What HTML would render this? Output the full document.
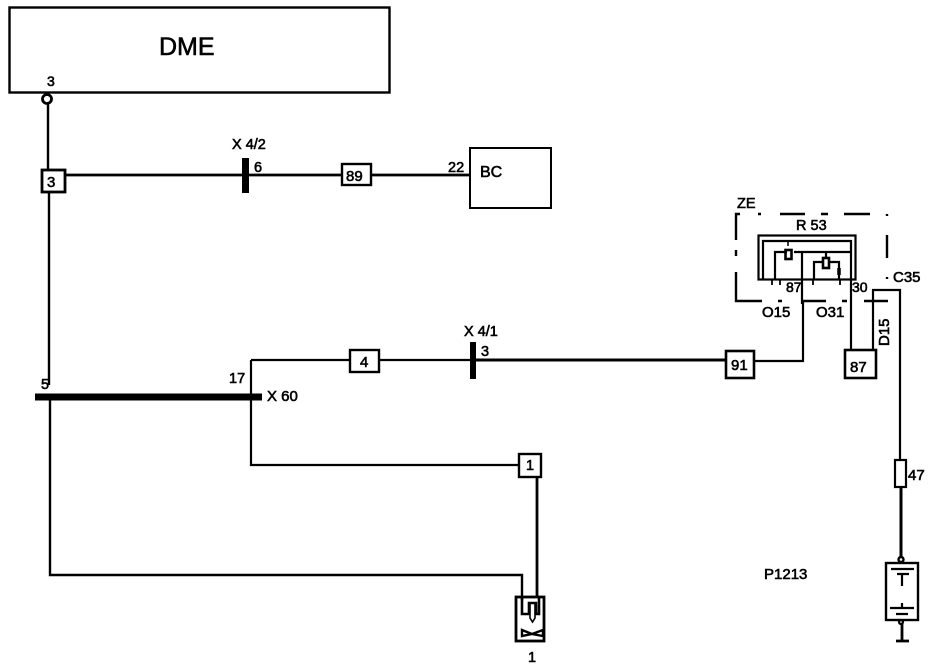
<!DOCTYPE html>
<html><head><meta charset="utf-8"><style>
html,body{margin:0;padding:0;background:#fff}
svg{display:block}
text{font-family:"Liberation Sans",sans-serif;fill:#000;stroke:#000;stroke-width:.6px}
</style></head><body>
<svg width="944" height="670" viewBox="0 0 944 670" xmlns="http://www.w3.org/2000/svg">
<g fill="none" stroke="#000" stroke-width="2">
<!-- DME -->
<rect x="9.500" y="7.500" width="380" height="85" stroke-width="2.400"/>
<circle cx="47" cy="99" r="4.500" stroke-width="2.800"/>
<path d="M48 104V170M49 192V385M50 400V575H522V600" stroke-width="2.400"/>
<path d="M65 175H342M371 175H470" stroke-width="2.800"/>
<rect x="470" y="148" width="81" height="60" stroke-width="2"/>
<!-- X60 -->
<path d="M35 397H262" stroke-width="7"/>
<path d="M251 360V465H519M251 360H350M379 360H726M754 361H803V300" stroke-width="2.200"/>
<path d="M473 360H726" stroke-width="3"/>
<path d="M537 477V598" stroke-width="2.800"/>
<!-- connector boxes -->
<rect x="42" y="170" width="23" height="22" stroke-width="2.800"/>
<rect x="342" y="164" width="29" height="21" stroke-width="2.400"/>
<rect x="350" y="350" width="29" height="22" stroke-width="2.400"/>
<rect x="726" y="351" width="28" height="27" stroke-width="2.600"/>
<rect x="519" y="454" width="22" height="23" stroke-width="2.400"/>
<rect x="845" y="350" width="31" height="28" stroke-width="2.600"/>
<!-- sensor -->
<rect x="516" y="597" width="28" height="44" stroke-width="2.800"/>
<path d="M522 598V614H529V603H536V614H539V598" stroke-width="2.600"/>
<path d="M530 604V618L532.500 622L535 618V604" stroke-width="1.600"/>
<path d="M522 630L532 634L543 630V636L532 634L522 636Z" stroke-width="2.400"/>
<!-- ZE dashed -->
<path d="M736 240V214H740M758 214H761M780 214H805M821 214H828M844 214H870M887 214V216M887 235V258M887 277V279M736 250V256M736 272V301H762M778 301H782M802 301H826M842 301H847M864 301H888" stroke-width="2.400"/>
<!-- relay -->
<rect x="758.500" y="235.500" width="97" height="44" stroke-width="2.200"/>
<path d="M763 279V241H851V279" stroke-width="2.200"/>
<path d="M775 279V252H787M794 252H851M802 252V304M826 252V258M814 279V262H822M829 262H839V279M851 279V350" stroke-width="2.200"/>
<path d="M788 240V246" stroke-width="1.500"/>
<rect x="785.500" y="250" width="6" height="9" stroke-width="2.600"/>
<rect x="823" y="258" width="6" height="10" stroke-width="2.600"/>
<path d="M839 268V275" stroke-width="3.500"/>
<path d="M772 279V285M780 279V285M813 279V285M840 279V285" stroke-width="1.800"/>
<!-- C35 wire -->
<path d="M873 350V290H900V460" stroke-width="2.200"/>
<!-- fuse + battery -->
<rect x="895" y="460" width="11" height="27" stroke-width="2.200"/>
<path d="M901 487V558" stroke-width="3"/>
<circle cx="901" cy="559.500" r="2.500" stroke-width="2.400"/>
<rect x="886" y="563" width="32" height="57" stroke-width="2.400"/>
<path d="M891 569H914M897 574H909M902 574V586M890 608H914M896 614H908M902 603V608" stroke-width="2.200"/>
<circle cx="901" cy="622" r="2" stroke-width="2.200"/>
<path d="M902 624V640M896 641H909" stroke-width="2.800"/>
</g>
<!-- X bars -->
<rect x="242" y="158" width="7" height="35" fill="#000"/>
<rect x="470" y="342" width="6" height="37" fill="#000"/>
<!-- labels -->
<text x="159" y="55" font-size="25">DME</text>
<text x="47" y="86" font-size="14">3</text>
<text x="47" y="187" font-size="15">3</text>
<text x="232" y="149" font-size="14.500">X 4/2</text>
<text x="254" y="172" font-size="14.500">6</text>
<text x="346" y="181" font-size="15">89</text>
<text x="448" y="172" font-size="14.500">22</text>
<text x="480" y="177" font-size="16">BC</text>
<text x="737" y="208" font-size="14.500">ZE</text>
<text x="796" y="230" font-size="14.500">R 53</text>
<text x="786" y="292" font-size="14">87</text>
<text x="852" y="292" font-size="14">30</text>
<text x="893" y="282" font-size="15">C35</text>
<text x="762" y="317" font-size="15">O15</text>
<text x="816" y="317" font-size="15">O31</text>
<text font-size="15" transform="translate(889,346) rotate(-90)">D15</text>
<text x="464" y="336" font-size="14.500">X 4/1</text>
<text x="481" y="356" font-size="14.500">3</text>
<text x="360" y="367" font-size="15">4</text>
<text x="731" y="370" font-size="15">91</text>
<text x="850" y="372" font-size="15">87</text>
<text x="41" y="389" font-size="14.500">5</text>
<text x="229" y="383" font-size="14.500">17</text>
<text x="267" y="401" font-size="15">X 60</text>
<text x="526" y="470" font-size="14.500">1</text>
<text x="908" y="480" font-size="15">47</text>
<text x="764" y="579" font-size="15">P1213</text>
<text x="528" y="662" font-size="14.500">1</text>
</svg>
</body></html>
